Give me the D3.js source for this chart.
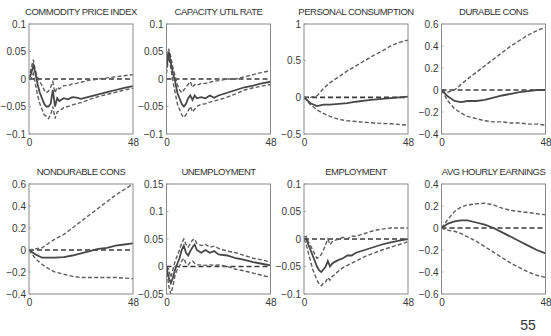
<!DOCTYPE html>
<html><head><meta charset="utf-8">
<script src="https://cdn.jsdelivr.net/npm/d3@7"></script>
<style>body{margin:0;background:#fff}svg{display:block}</style>
</head><body><svg id="c" width="551" height="336"></svg>
<script>
// Month grids
const monthsFine = [0,1,2,3,4,5,6,7,8,9,10,11,12,13,14,16,18,20,22,24,28,32,36,40,44,48];
const monthsCoarse = [0,3,6,9,12,16,20,24,28,32,36,40,44,48];

const titles = ["COMMODITY PRICE INDEX","CAPACITY UTIL RATE","PERSONAL CONSUMPTION","DURABLE CONS",
                "NONDURABLE CONS","UNEMPLOYMENT","EMPLOYMENT","AVG HOURLY EARNINGS"];
const xTickLabels = [0, 48];

// Y ticks per panel
const yTicks1 = [-0.1,-0.05,0,0.05,0.1];
const yTicks2 = [-0.1,-0.05,0,0.05,0.1];
const yTicks3 = [-0.5,0,0.5,1];
const yTicks4 = [-0.4,-0.2,0,0.2,0.4,0.6];
const yTicks5 = [-0.4,-0.2,0,0.2,0.4,0.6];
const yTicks6 = [-0.05,0,0.05,0.1,0.15];
const yTicks7 = [-0.1,-0.05,0,0.05,0.1];
const yTicks8 = [-0.6,-0.4,-0.2,0,0.2,0.4];

// Commodity price index
const cpiMid = [0,0.01,0.025,0.01,-0.01,-0.025,-0.035,-0.045,-0.05,-0.05,-0.045,-0.02,-0.05,-0.035,-0.04,-0.035,-0.037,-0.033,-0.034,-0.036,-0.032,-0.028,-0.024,-0.02,-0.016,-0.013];
const cpiUp  = [0,0.02,0.035,0.015,0.002,-0.005,-0.012,-0.02,-0.025,-0.022,-0.015,-0.005,-0.025,-0.015,-0.018,-0.012,-0.012,-0.009,-0.008,-0.006,-0.002,0,0.002,0.004,0.006,0.008];
const cpiLo  = [0,0,0.01,-0.01,-0.03,-0.045,-0.055,-0.065,-0.068,-0.072,-0.065,-0.05,-0.072,-0.06,-0.058,-0.052,-0.05,-0.047,-0.045,-0.043,-0.037,-0.032,-0.028,-0.024,-0.02,-0.017];
// Capacity util rate
const capMid = [0.02,0.05,0.03,0.01,-0.005,-0.025,-0.035,-0.045,-0.05,-0.045,-0.035,-0.03,-0.038,-0.03,-0.035,-0.033,-0.035,-0.03,-0.034,-0.03,-0.025,-0.02,-0.015,-0.012,-0.008,-0.005];
const capUp  = [0.03,0.055,0.04,0.02,0.005,-0.01,-0.02,-0.025,-0.02,-0.015,-0.01,-0.005,-0.015,-0.01,-0.012,-0.008,-0.008,-0.006,-0.004,-0.003,0,0,0.004,0.008,0.012,0.015];
const capLo  = [0.01,0.04,0.02,-0.005,-0.025,-0.045,-0.055,-0.065,-0.07,-0.065,-0.058,-0.05,-0.06,-0.055,-0.05,-0.046,-0.045,-0.042,-0.04,-0.038,-0.033,-0.027,-0.02,-0.016,-0.013,-0.01];
// Personal consumption
const pcMid = [0,-0.08,-0.12,-0.1,-0.1,-0.09,-0.08,-0.06,-0.045,-0.03,-0.02,-0.01,0,0.01];
const pcUp  = [0,0,0.02,0.12,0.2,0.28,0.36,0.43,0.5,0.57,0.63,0.7,0.75,0.78];
const pcLo  = [0,-0.1,-0.17,-0.22,-0.26,-0.3,-0.32,-0.33,-0.34,-0.35,-0.355,-0.36,-0.37,-0.38];
// Durable cons
const durMid = [0,-0.06,-0.1,-0.11,-0.1,-0.1,-0.09,-0.07,-0.05,-0.035,-0.02,-0.01,0,0];
const durUp  = [0,-0.02,0,0.05,0.1,0.16,0.22,0.28,0.34,0.4,0.45,0.5,0.54,0.57];
const durLo  = [0,-0.1,-0.17,-0.21,-0.24,-0.26,-0.28,-0.29,-0.29,-0.3,-0.3,-0.31,-0.31,-0.32];
// Nondurable cons
const ndMid = [0,-0.04,-0.07,-0.07,-0.07,-0.065,-0.05,-0.03,-0.01,0.01,0.02,0.04,0.05,0.06];
const ndUp  = [0,0.01,0.02,0.06,0.1,0.14,0.2,0.26,0.32,0.38,0.44,0.5,0.55,0.6];
const ndLo  = [0,-0.08,-0.13,-0.17,-0.2,-0.22,-0.24,-0.25,-0.25,-0.25,-0.25,-0.25,-0.255,-0.26];
// Unemployment
const unMid = [0,-0.02,-0.03,-0.02,-0.005,0.005,0.015,0.03,0.038,0.025,0.02,0.028,0.035,0.04,0.03,0.025,0.03,0.025,0.028,0.022,0.02,0.015,0.012,0.008,0.005,0.002];
const unUp  = [0,-0.005,-0.02,-0.005,0.01,0.02,0.03,0.042,0.05,0.04,0.035,0.042,0.048,0.05,0.042,0.038,0.04,0.035,0.037,0.033,0.028,0.025,0.02,0.015,0.012,0.008];
const unLo  = [0,-0.035,-0.05,-0.035,-0.015,-0.005,0,0.01,0.015,0.005,0.003,0.008,0.01,0.006,0.003,0.003,0.002,0.003,0.002,0.003,0,-0.005,-0.008,-0.012,-0.016,-0.02];
// Employment
const emMid = [0,0,-0.01,-0.02,-0.03,-0.04,-0.05,-0.057,-0.06,-0.055,-0.05,-0.04,-0.05,-0.045,-0.042,-0.038,-0.035,-0.03,-0.03,-0.025,-0.02,-0.015,-0.01,-0.006,-0.003,0];
const emUp  = [0.003,0.005,-0.005,-0.012,-0.02,-0.028,-0.035,-0.033,-0.028,-0.02,-0.01,0,-0.01,-0.005,-0.003,0,0.003,0,0.005,0.005,0.01,0.015,0.018,0.02,0.02,0.02];
const emLo  = [0,-0.01,-0.025,-0.04,-0.055,-0.065,-0.075,-0.082,-0.085,-0.08,-0.078,-0.07,-0.075,-0.068,-0.065,-0.058,-0.052,-0.048,-0.044,-0.04,-0.032,-0.026,-0.02,-0.015,-0.01,-0.005];
// Avg hourly earnings
const ahMid = [0,0.04,0.06,0.07,0.07,0.05,0.03,0,-0.04,-0.08,-0.12,-0.16,-0.2,-0.23];
const ahUp  = [0,0.08,0.15,0.19,0.21,0.22,0.225,0.21,0.18,0.16,0.15,0.14,0.13,0.12];
const ahLo  = [0,-0.02,-0.03,-0.05,-0.08,-0.12,-0.17,-0.22,-0.27,-0.32,-0.36,-0.4,-0.43,-0.45];

const panels = [
  {months: monthsFine, mid: cpiMid, up: cpiUp, lo: cpiLo, ticks: yTicks1},
  {months: monthsFine, mid: capMid, up: capUp, lo: capLo, ticks: yTicks2},
  {months: monthsCoarse, mid: pcMid, up: pcUp, lo: pcLo, ticks: yTicks3},
  {months: monthsCoarse, mid: durMid, up: durUp, lo: durLo, ticks: yTicks4},
  {months: monthsCoarse, mid: ndMid, up: ndUp, lo: ndLo, ticks: yTicks5},
  {months: monthsFine, mid: unMid, up: unUp, lo: unLo, ticks: yTicks6},
  {months: monthsFine, mid: emMid, up: emUp, lo: emLo, ticks: yTicks7},
  {months: monthsCoarse, mid: ahMid, up: ahUp, lo: ahLo, ticks: yTicks8}
];

const svg = d3.select("#c");
const colLeft = [29, 166.5, 304, 441.5];
const rowTop = [24, 184];
const W = 104, H = 110;
const font = "'Liberation Sans', Arial, sans-serif";

panels.forEach((p, i) => {
  const col = i % 4, row = Math.floor(i / 4);
  const g = svg.append("g").attr("transform", `translate(${colLeft[col]},${rowTop[row]})`);
  const x = d3.scaleLinear().domain([0, 48]).range([0, W]);
  const y = d3.scaleLinear().domain(d3.extent(p.ticks)).range([H, 0]);

  const ya = d3.axisLeft(y).tickValues(p.ticks).tickSize(0).tickPadding(3)
    .tickFormat(d => d3.format("~g")(d));
  const yg = g.append("g").call(ya);
  yg.select(".domain").remove();
  yg.selectAll("text").attr("font-family", font).attr("font-size", 10).attr("fill", "#3a3a3a");

  const xa = d3.axisBottom(x).tickValues(xTickLabels).tickSize(0).tickPadding(5);
  const xg = g.append("g").attr("transform", `translate(0,${H})`).call(xa);
  xg.select(".domain").remove();
  xg.selectAll("text").attr("font-family", font).attr("font-size", 10).attr("fill", "#3a3a3a");

  g.selectAll(".tk").data(p.ticks).join("line")
    .attr("x1", 0).attr("x2", 2).attr("y1", d => y(d)).attr("y2", d => y(d))
    .attr("stroke", "#999").attr("stroke-width", 0.8);

  const clipId = "clip" + i;
  g.append("clipPath").attr("id", clipId).append("rect").attr("width", W).attr("height", H);
  const plot = g.append("g").attr("clip-path", `url(#${clipId})`);

  plot.append("line").attr("x1", x(0)).attr("x2", x(48)).attr("y1", y(0)).attr("y2", y(0))
    .attr("stroke", "#3a3a3a").attr("stroke-width", 1.7).attr("stroke-dasharray", "5,3");

  const line = d3.line().x((d, k) => x(p.months[k])).y(d => y(d));
  [p.up, p.lo].forEach(s => {
    plot.append("path").attr("d", line(s)).attr("fill", "none")
      .attr("stroke", "#5e5e5e").attr("stroke-width", 1.4).attr("stroke-dasharray", "4,2.2");
  });
  plot.append("path").attr("d", line(p.mid)).attr("fill", "none")
    .attr("stroke", "#474747").attr("stroke-width", 1.8);

  g.append("rect").attr("width", W).attr("height", H).attr("fill", "none")
    .attr("stroke", "#8a8a8a").attr("stroke-width", 1);

  g.append("text").attr("x", W / 2).attr("y", -9).attr("text-anchor", "middle")
    .attr("font-family", font).attr("font-size", 9.5).attr("letter-spacing", -0.5)
    .attr("fill", "#333").text(titles[i]);
});

svg.append("text").attr("x", 528).attr("y", 330).attr("text-anchor", "middle")
  .attr("font-family", font).attr("font-size", 14).attr("fill", "#333").text("55");
</script>
</body></html>
